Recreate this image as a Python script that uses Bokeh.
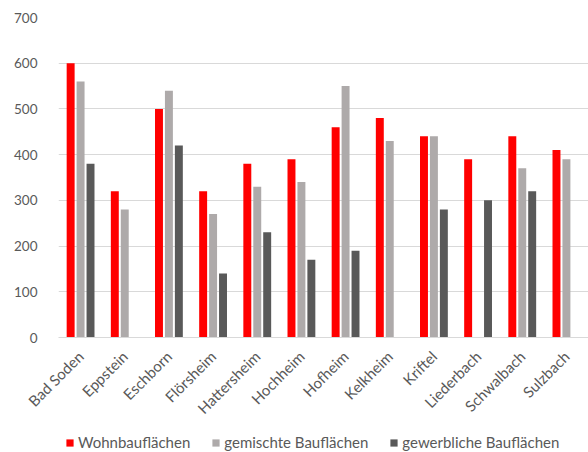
import math
from bokeh.plotting import figure
from bokeh.layouts import column
from bokeh.models import FactorRange, Range1d, ColumnDataSource, Legend, LegendItem, FixedTicker
from bokeh.transform import dodge
from bokeh.embed import file_html
from bokeh.resources import INLINE

nan = float("nan")
cities = ["Bad Soden", "Eppstein", "Eschborn", "Flörsheim", "Hattersheim", "Hochheim",
          "Hofheim", "Kelkheim", "Kriftel", "Liederbach", "Schwalbach", "Sulzbach"]
wohn = [600, 320, 500, 320, 380, 390, 460, 480, 440, 390, 440, 410]
gemischt = [560, 280, 540, 270, 330, 340, 550, 430, 440, nan, 370, 390]
gewerbe = [380, nan, 420, 140, 230, 170, 190, nan, 280, 300, 320, nan]
y_ticks = [0, 100, 200, 300, 400, 500, 600, 700]
series_names = ["Wohnbauflächen", "gemischte Bauflächen", "gewerbliche Bauflächen"]
colors = ["#FF0000", "#AEAAAA", "#595959"]

src = ColumnDataSource(dict(city=cities, wohn=wohn, gemischt=gemischt, gewerbe=gewerbe))

FONT = "Lato"
TXT = "#595959"

p = figure(width=588, height=426, x_range=FactorRange(factors=cities, range_padding=0),
           y_range=Range1d(0, 700), output_backend="svg", toolbar_location=None,
           min_border_left=58, min_border_right=0, min_border_top=17, min_border_bottom=88)
p.outline_line_color = None
p.background_fill_color = "white"

for key, off, col in zip(["wohn", "gemischt", "gewerbe"], [-0.225, 0.0, 0.225], colors):
    p.vbar(x=dodge("city", off, range=p.x_range), top=key, width=0.18, source=src,
           fill_color=col, line_color=None)

p.xgrid.grid_line_color = None
p.ygrid.grid_line_color = "#D9D9D9"
p.ygrid.grid_line_width = 1
p.yaxis.ticker = FixedTicker(ticks=y_ticks)
p.yaxis.axis_line_color = None
p.yaxis.major_tick_line_color = None
p.yaxis.minor_tick_line_color = None
p.yaxis.major_label_standoff = 15
p.yaxis.major_label_text_font = FONT
p.yaxis.major_label_text_font_size = "13.5px"
p.yaxis.major_label_text_color = TXT

p.xaxis.axis_line_color = "#D9D9D9"
p.xaxis.major_tick_line_color = None
p.xaxis.minor_tick_line_color = None
p.xaxis.major_label_orientation = math.pi / 4
p.xaxis.major_label_standoff = 10
p.xaxis.major_label_text_font = FONT
p.xaxis.major_label_text_font_size = "15px"
p.xaxis.major_label_text_color = TXT

# legend strip below the chart (its frame is aligned with the chart's frame)
p2 = figure(width=588, height=26, x_range=(0, 1), y_range=(0, 1), output_backend="svg",
            toolbar_location=None, min_border=0)
p2.outline_line_color = None
p2.xaxis.visible = False
p2.yaxis.visible = False
p2.grid.visible = False
leg_renderers = []
for c in colors:
    dummy = ColumnDataSource(dict(x=[5.0], top=[0.0]))  # outside the strip's visible range
    leg_renderers.append(p2.vbar(x="x", top="top", width=0.1, source=dummy,
                                 fill_color=c, line_color=None))
leg = Legend(items=[LegendItem(label=n, renderers=[r]) for n, r in zip(series_names, leg_renderers)],
             location=(7, 1), orientation="horizontal", border_line_color=None,
             background_fill_alpha=0, padding=0, margin=0, spacing=21,
             glyph_width=9, glyph_height=9, label_standoff=4,
             label_text_font=FONT, label_text_font_size="15px", label_text_color=TXT)
p2.add_layout(leg, "center")

layout = column(p, p2, spacing=0)
open("out.html", "w").write(file_html(layout, INLINE))
